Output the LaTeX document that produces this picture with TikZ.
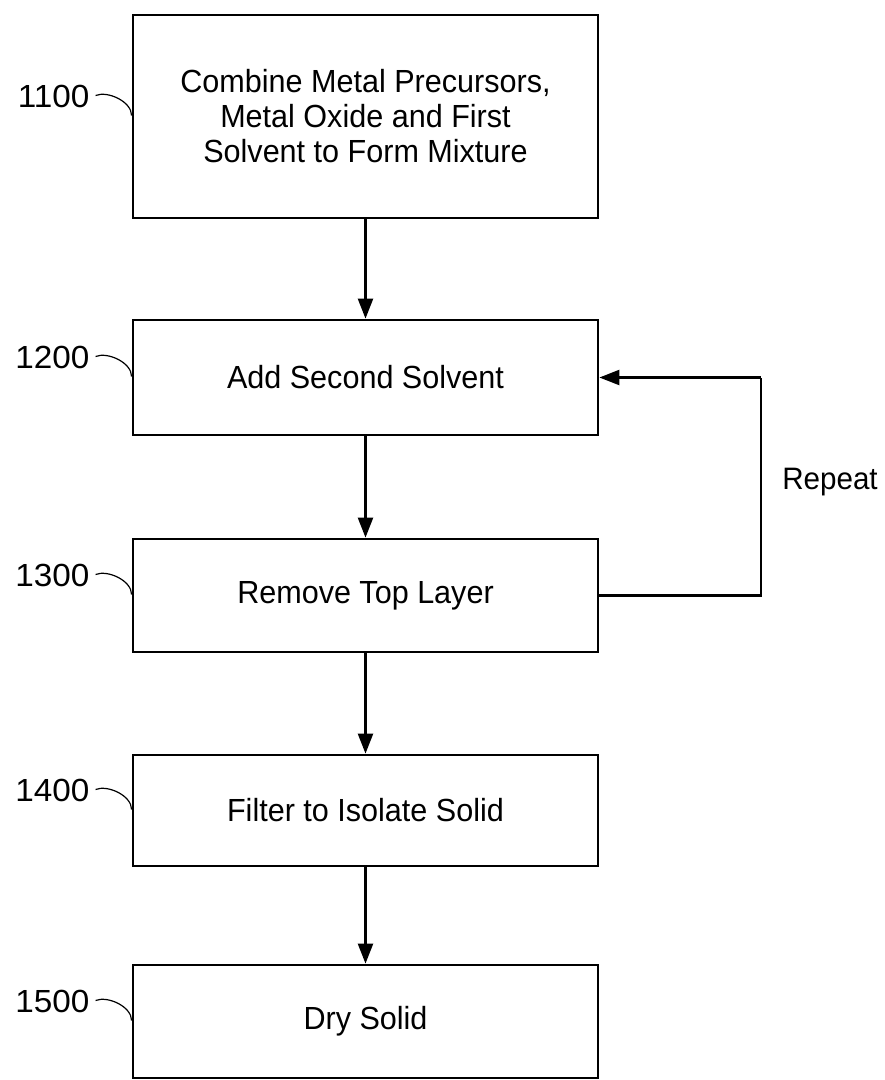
\documentclass[tikz,border=0pt]{standalone}
\usepackage{fontspec}
\setmainfont{Liberation Sans}[FakeStretch=0.955]
\newfontfamily\lblfont{Liberation Sans}[FakeStretch=1.04]
\usetikzlibrary{arrows.meta,calc}
\begin{document}
\begin{tikzpicture}[x=1pt,y=-1pt,
  stepbox/.style={draw, line width=2.8pt, minimum width=465pt, align=center, inner sep=0pt,
    font=\fontsize{32}{35}\selectfont},
  conn/.style={line width=2.4pt, -{Triangle[length=20pt,width=15pt]}},
  lbl/.style={font=\lblfont\fontsize{32}{35}\selectfont, inner sep=0pt},
  rlbl/.style={font=\fontsize{31}{35}\selectfont, inner sep=0pt},
  lead/.style={line width=1.2pt}]
\useasboundingbox (0,0) rectangle (885,1080);
\node[stepbox, minimum height=203pt] (b1) at (365.5,116.5) {Combine Metal Precursors,\\Metal Oxide and First\\Solvent to Form Mixture};
\node[stepbox, minimum height=115pt] (b2) at (365.5,377.5) {Add Second Solvent};
\node[stepbox, minimum height=113pt] (b3) at (365.5,595.5) {Remove Top Layer};
\node[stepbox, minimum height=111pt] (b4) at (365.5,810.5) {Filter to Isolate Solid};
\node[stepbox, minimum height=113pt] (b5) at (365.5,1021.5) {Dry Solid};
\draw[conn] (b1) -- (b2);
\draw[conn] (b2) -- (b3);
\draw[conn] (b3) -- (b4);
\draw[conn] (b4) -- (b5);
\coordinate (r1) at (761,595.5);
\coordinate (r2) at (761,377.5);
\draw[conn, -] (b3.east) -- (r1) -- (r2);
\draw[conn] (r2) -- (b2.east);
\node[rlbl, anchor=base] (rep) at (830,489) {Repeat};
\foreach \n/\b in {1100/b1,1200/b2,1300/b3,1400/b4,1500/b5}{
  \node[lbl, anchor=east] (l\n) at ($(\b.west)+(-42,-20)$) {\n};
  \draw[lead] ($(l\n.east)+(6,-1)$) .. controls +(12,-5) and +(0,-14) .. ($(\b.west)+(0,-1)$);
}
\end{tikzpicture}
\end{document}
